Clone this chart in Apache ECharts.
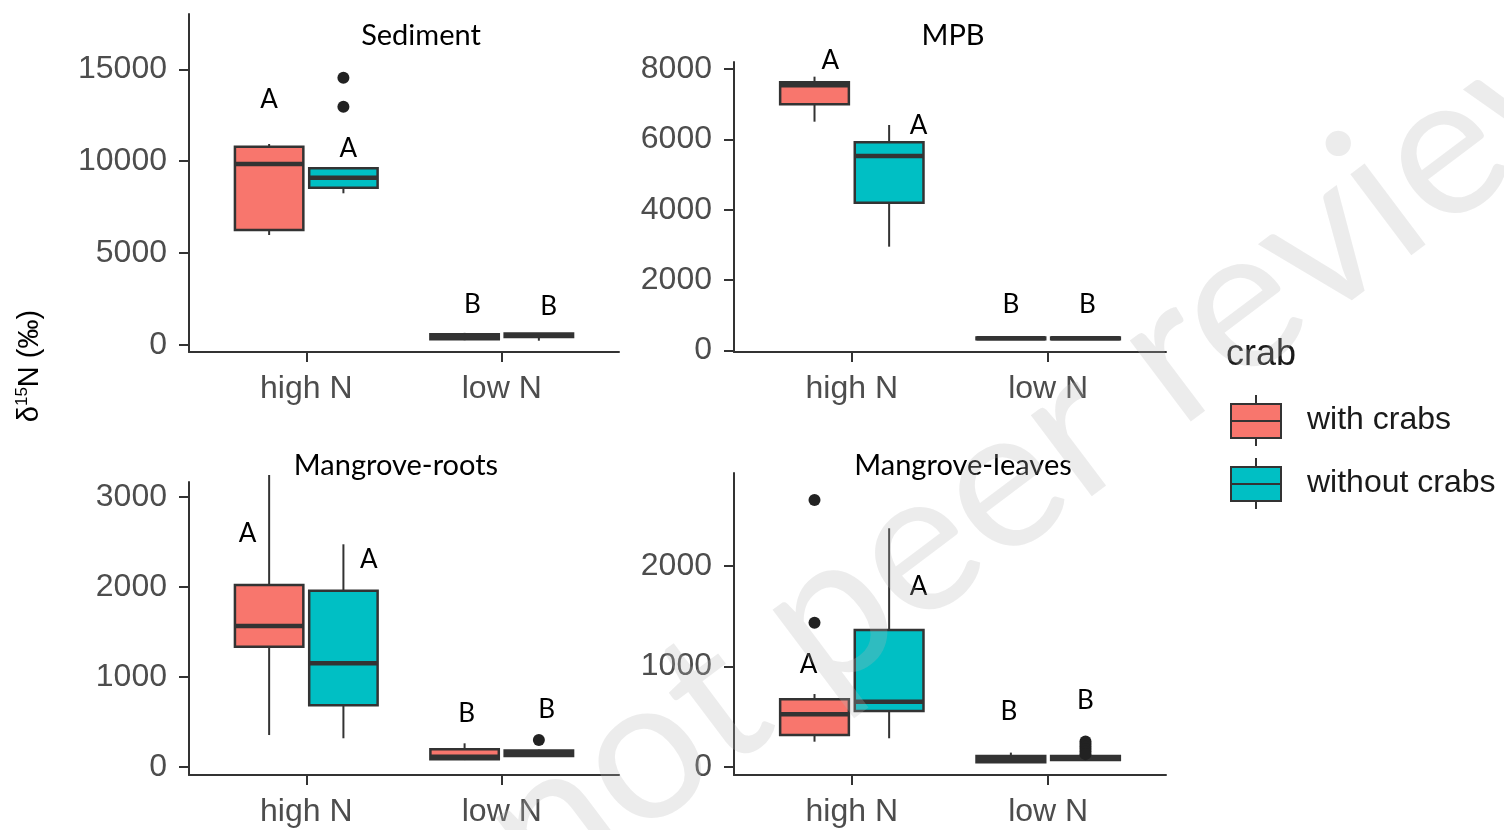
<!DOCTYPE html>
<html><head><meta charset="utf-8">
<script src="https://cdn.jsdelivr.net/npm/echarts@6/dist/echarts.min.js"></script>
<style>html,body{margin:0;padding:0;background:#fff}#c{width:1504px;height:830px}</style>
</head><body><div id="c"></div>
<script>
// ---------------- data ----------------
const categories = ['high N', 'low N'];
const groups = ['with crabs', 'without crabs'];
const panelTitles = ['Sediment', 'MPB', 'Mangrove-roots', 'Mangrove-leaves'];
const yTicks = [[0, 5000, 10000, 15000], [0, 2000, 4000, 6000, 8000], [0, 1000, 2000, 3000], [0, 1000, 2000]];
const yRanges = [[-381, 18009], [-43, 8198], [-92, 3163], [-83, 2927]];

// five-number summaries [min, Q1, median, Q3, max]; per panel: [high N, low N]
const withCrabs = [
  [[5985, 6257, 9848, 10789, 10936], [260, 310, 440, 590, 660]],
  [[6502, 6996, 7536, 7622, 7781], [300, 320, 345, 370, 390]],
  [[352, 1333, 1563, 2019, 3241], [74, 82, 111, 193, 260]],
  [[249, 316, 522, 672, 724], [37, 44, 77, 107, 140]]
];
const withoutCrabs = [
  [[8254, 8558, 9102, 9614, 9684], [234, 440, 530, 620, 650]],
  [[2950, 4200, 5527, 5916, 6408], [300, 320, 345, 370, 390]],
  [[316, 682, 1149, 1956, 2471], [108, 118, 149, 180, 190]],
  [[283, 555, 648, 1362, 2376], [67, 67, 87, 107, 107]]
];
// outliers per panel: [high N, low N]
const outliersWith = [[[], []], [[], []], [[], []], [[2658, 1435], []]];
const outliersWithout = [[[14543, 12965], []], [[], []], [[], [297]], [[], [250, 225, 200, 175, 150, 125]]];
// significance letters: [category index, shift (category units), y value, letter]
const letters = [
  [[0, -0.19, 13330, 'A'], [0, 0.215, 10702, 'A'], [1, -0.15, 2176, 'B'], [1, 0.24, 2084, 'B']],
  [[0, -0.11, 8227, 'A'], [0, 0.34, 6380, 'A'], [1, -0.19, 1293, 'B'], [1, 0.20, 1293, 'B']],
  [[0, -0.30, 2593, 'A'], [0, 0.32, 2297, 'A'], [1, -0.18, 593, 'B'], [1, 0.23, 630, 'B']],
  [[0, -0.22, 1013, 'A'], [0, 0.34, 1794, 'A'], [1, -0.20, 548, 'B'], [1, 0.19, 658, 'B']]
];

// ---------------- layout / style ----------------
const GRIDS = [
  { left: 189, top: 14, width: 430, height: 338 },
  { left: 734, top: 62, width: 432, height: 290 },
  { left: 189, top: 482, width: 430, height: 293 },
  { left: 734, top: 473, width: 432, height: 302 }
];
const TITLE_POS = [[421, 36], [953, 36], [396, 466], [963, 466]];
const RED = '#F8766D', TEAL = '#00BFC4', EDGE = '#333333';
const DODGE = 0.19, BOX_W = 0.35;
const TICK_FONT = 'Liberation Sans';

function boxRenderer(color) {
  return function (params, api) {
    const x = api.value(0);
    const p = [1, 2, 3, 4, 5].map(i => api.coord([x, api.value(i)]));
    const half = api.size([BOX_W, 0])[0] / 2;
    const cx = p[0][0];
    const ls = { stroke: EDGE, lineWidth: 2 };
    return {
      type: 'group', children: [
        { type: 'line', shape: { x1: cx, y1: p[4][1], x2: cx, y2: p[3][1] }, style: ls },
        { type: 'line', shape: { x1: cx, y1: p[1][1], x2: cx, y2: p[0][1] }, style: ls },
        { type: 'rect', shape: { x: cx - half, y: p[3][1], width: 2 * half, height: p[1][1] - p[3][1] },
          style: { fill: color, stroke: EDGE, lineWidth: 2.5 } },
        { type: 'line', shape: { x1: cx - half, y1: p[2][1], x2: cx + half, y2: p[2][1] },
          style: { stroke: EDGE, lineWidth: 4.5 } }
      ]
    };
  };
}

const grid = [], xAxis = [], yAxis = [], series = [];
GRIDS.forEach((g, p) => {
  grid.push(Object.assign({ containLabel: false }, g));
  const axisLine = { show: true, onZero: false, lineStyle: { color: EDGE, width: 2 } };
  xAxis.push({
    type: 'value', gridIndex: p, min: 0.4, max: 2.6,
    axisLine, splitLine: { show: false },
    axisTick: { show: true, length: 10, lineStyle: { color: EDGE, width: 2 }, customValues: [1, 2] },
    axisLabel: { customValues: [1, 2], formatter: v => categories[Math.round(v) - 1],
      fontFamily: TICK_FONT, fontSize: 32, color: '#4d4d4d', margin: 21 }
  });
  yAxis.push({
    type: 'value', gridIndex: p, min: yRanges[p][0], max: yRanges[p][1],
    axisLine, splitLine: { show: false },
    axisTick: { show: true, length: 10, lineStyle: { color: EDGE, width: 2 }, customValues: yTicks[p] },
    axisLabel: { customValues: yTicks[p], formatter: v => String(v),
      fontFamily: TICK_FONT, fontSize: 32, color: '#4d4d4d', margin: 22 }
  });
  [[withCrabs, RED, -DODGE, groups[0], outliersWith], [withoutCrabs, TEAL, DODGE, groups[1], outliersWithout]]
    .forEach(([src, color, shift, name, outs]) => {
      series.push({
        type: 'custom', name, xAxisIndex: p, yAxisIndex: p,
        itemStyle: { color },
        encode: { x: 0, y: [1, 2, 3, 4, 5] },
        data: src[p].map((s, i) => [i + 1 + shift].concat(s)),
        renderItem: boxRenderer(color), silent: true, z: 2
      });
      const pts = [];
      outs[p].forEach((arr, i) => arr.forEach(v => pts.push([i + 1 + shift, v])));
      series.push({
        type: 'scatter', name: name + ' outliers', xAxisIndex: p, yAxisIndex: p,
        symbolSize: 12, itemStyle: { color: '#222', opacity: 1 }, data: pts, silent: true, z: 3, clip: false
      });
    });
  const L = letters[p];
  series.push({
    type: 'custom', name: 'letters', xAxisIndex: p, yAxisIndex: p, silent: true, z: 4,
    encode: { x: 0, y: 1 },
    data: L.map(l => [l[0] + 1 + l[1], l[2]]),
    renderItem: (params, api) => {
      const pt = api.coord([api.value(0), api.value(1)]);
      return { type: 'text', x: pt[0], y: pt[1],
        style: { text: L[params.dataIndex][3], fontFamily: 'Lato', fontSize: 26, fill: '#000',
          align: 'center', verticalAlign: 'middle' } };
    }
  });
});

const ICON = 'path://M25,0L25,9M0,9L50,9L50,43L0,43ZM0,26L50,26M25,43L25,51';

const graphic = [];
panelTitles.forEach((t, p) => {
  graphic.push({ type: 'text', x: TITLE_POS[p][0], y: TITLE_POS[p][1],
    style: { text: t, fontFamily: 'Lato', fontSize: 29, fill: '#000', align: 'center', verticalAlign: 'middle' } });
});
graphic.push({ type: 'text', x: 30, y: 366, rotation: Math.PI / 2,
  style: { text: '{a|δ}{s|15}{a|N (‰)}', fill: '#000', align: 'center', verticalAlign: 'middle',
    rich: { a: { fontFamily: TICK_FONT, fontSize: 29, lineHeight: 32 },
            s: { fontFamily: TICK_FONT, fontSize: 17, lineHeight: 32, verticalAlign: 'top' } } } });
graphic.push({ type: 'text', x: 1226, y: 355,
  style: { text: 'crab', fontFamily: TICK_FONT, fontSize: 36, fill: '#1a1a1a', align: 'left', verticalAlign: 'middle' } });
graphic.push({ type: 'text', x: 507, y: 856, rotation: 37 * Math.PI / 180, z: 100, silent: true,
  style: { text: 'not peer reviewed', fontFamily: 'Lato', fontSize: 200, fill: 'rgba(183,183,183,0.26)',
    align: 'left', verticalAlign: 'middle' } });

const option = {
  backgroundColor: '#fff',
  animation: false,
  grid, xAxis, yAxis, series, graphic,
  legend: {
    orient: 'vertical', left: 1230, top: 394, padding: 0,
    itemWidth: 50, itemHeight: 51, itemGap: 10, selectedMode: false,
    textStyle: { fontFamily: TICK_FONT, fontSize: 32, color: '#1a1a1a', padding: [0, 0, 0, 21] },
    data: [
      { name: groups[0], icon: ICON, itemStyle: { color: RED, borderColor: EDGE, borderWidth: 2 } },
      { name: groups[1], icon: ICON, itemStyle: { color: TEAL, borderColor: EDGE, borderWidth: 2 } }
    ]
  }
};
const chart = echarts.init(document.getElementById('c'), null, { renderer: 'canvas' });
chart.setOption(option);
</script></body></html>
